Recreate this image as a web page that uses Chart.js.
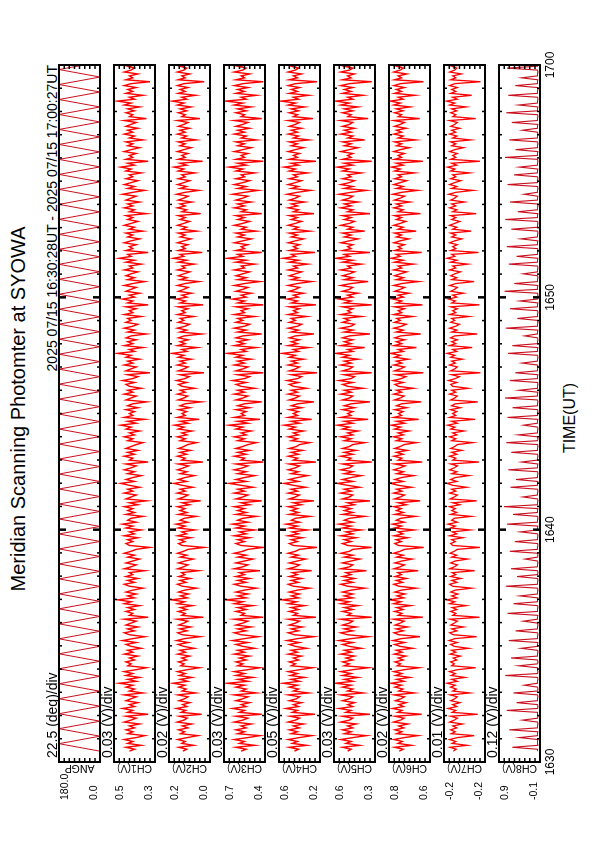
<!DOCTYPE html>
<html>
<head>
<meta charset="utf-8">
<script src="https://cdn.jsdelivr.net/npm/chart.js@4.4.1/dist/chart.umd.min.js"></script>
<style>
  html, body { margin: 0; padding: 0; background: #fff; width: 595px; height: 842px; overflow: hidden; }
  /* the plot is drawn landscape and turned a quarter turn counter-clockwise */
  #sheet {
    position: absolute; left: 0; top: 0; width: 842px; height: 595px;
    transform-origin: 0 0; transform: translate(0, 842px) rotate(-90deg);
    font-family: "Liberation Sans", Arial, Helvetica, sans-serif; color: #000;
  }
  #sheet canvas { position: absolute; left: 0; top: 0; }
  .txt { position: absolute; white-space: nowrap; }
  #title { left: 433px; top: 7px; font-size: 20px; line-height: 22px; transform: translateX(-50%); }
  #span { right: 65px; top: 44px; font-size: 14px; line-height: 16px; }
  #xname { left: 424px; top: 561px; font-size: 16px; line-height: 18px; transform: translateX(-50%); }
</style>
</head>
<body>
<div id="sheet">
  <div class="txt" id="title">Meridian Scanning Photomter at SYOWA</div>
  <div class="txt" id="span">2025 07/15 16:30:28UT - 2025 07/15 17:00:27UT</div>
  <div class="txt" id="xname">TIME(UT)</div>
</div>
<script>
// 数据：16:30:28 到 17:00:27，时间单位为 16:00 之后的分钟
const sampleStart = 30 + 28 / 60;
const sampleEnd = 60 + 27 / 60;
const timeTicks = [30, 40, 50, 60];
const timeTickLabels = ['1630', '1640', '1650', '1700'];

const panelNames = ['ANGP', 'CH1(V)', 'CH2(V)', 'CH3(V)', 'CH4(V)', 'CH5(V)', 'CH6(V)', 'CH7(V)', 'CH8(V)'];
const panelUnits = ['deg', 'V', 'V', 'V', 'V', 'V', 'V', 'V', 'V'];
const panelMin = [0, 0.27, 0.04, 0.44, 0.20, 0.34, 0.64, -0.24, -0.10];
const panelMax = [180, 0.51, 0.20, 0.68, 0.60, 0.58, 0.80, -0.16, 0.86];

// 扫描角度（往返扫描）
const angp = [
  0,180,0,180,0,180,0,180,0,180,0,180,0,180,0,180,0,180,0,180,
  0,180,0,180,0,180,0,180,0,180,0,180,0,180,0,180,0,180,0,180,
  0,180,0,180,0,180,0,180,0,180,0,180,0,180,0,180,0,180,0,180,
  0,180,0,180,0,180,0,180,0,180,0,180,0,180,0,180,0,180,0,180,
  0,180,0,180,0,180,0,180,0,180,0,180,0,180
];

const ch1 = [
  0.42,0.39,0.44,0.35,0.43,0.40,0.45,0.38,0.33,0.43,0.40,0.44,0.39,0.42,0.36,0.45,0.41,0.38,0.44,0.31,
  0.43,0.40,0.46,0.39,0.42,0.37,0.44,0.41,0.38,0.45,0.34,0.42,0.39,0.44,0.40,0.48,0.38,0.43,0.36,0.44,
  0.40,0.45,0.38,0.32,0.43,0.41,0.44,0.39,0.42,0.37,0.45,0.40,0.43,0.35,0.41,0.44,0.38,0.46,0.40,0.33,
  0.42,0.45,0.39,0.43,0.37,0.44,0.41,0.38,0.45,0.31,0.42,0.40,0.44,0.39,0.43,0.36,0.45,0.41,0.49,0.39,
  0.43,0.38,0.44,0.40,0.34,0.42,0.45,0.39,0.43,0.37,0.44,0.40,0.42,0.33,0.45,0.41,0.38,0.44,0.40,0.36,
  0.43,0.39,0.45,0.41,0.38,0.30,0.42,0.44,0.40,0.43,0.37,0.45,0.39,0.42,0.35,0.44,0.40,0.46,0.38,0.43,
  0.41,0.34,0.44,0.39,0.43,0.40,0.45,0.37,0.42,0.32,0.44,0.41,0.38,0.45,0.40,0.43,0.36,0.42,0.47,0.39,
  0.44,0.40,0.35,0.43,0.39,0.45,0.41,0.38,0.44,0.31,0.42,0.40,0.45,0.39,0.43,0.37,0.44,0.41,0.38,0.34,
  0.43,0.40,0.45,0.39,0.42,0.36,0.44,0.41,0.47,0.38,0.43,0.33,0.45,0.40,0.42,0.39,0.44,0.37,0.43,0.40,
  0.32,0.44,0.41,0.38,0.45,0.40,0.43,0.35,0.42,0.44,0.39,0.46,0.40,0.37,0.43,0.30,0.44,0.41,0.38,0.45,
  0.40,0.43,0.36,0.44,0.41,0.49,0.39,0.42,0.34,0.45,0.40,0.43,0.38,0.44,0.41,0.32,0.43,0.39,0.45,0.40,
  0.37,0.44,0.41,0.43,0.35,0.45,0.40,0.42,0.38,0.44,0.31,0.43,0.40,0.46,0.39,0.42,0.36,0.44,0.41,0.38,
  0.45,0.40,0.33,0.43,0.39,0.44,0.41,0.37,0.45,0.40,0.42,0.35,0.44,0.39,0.48,0.41,0.43,0.31,0.44,0.40,
  0.42,0.38,0.45,0.41,0.36,0.43,0.40,0.44,0.34,0.42,0.39,0.45,0.41,0.37,0.43,0.40,0.44,0.32,0.42,0.39,
  0.45,0.40,0.43,0.36,0.44,0.41,0.38,0.46,0.40,0.33,0.43,0.39,0.45,0.41,0.37,0.44,0.40,0.42,0.35,0.44,
  0.41,0.47,0.39,0.43,0.31,0.44,0.40,0.42,0.38,0.45,0.41,0.36,0.43,0.40,0.44,0.34,0.42,0.39,0.45,0.40,
  0.43,0.37,0.44,0.41,0.38,0.45,0.32,0.42,0.40,0.44,0.39,0.43,0.36,0.45,0.41,0.49,0.39,0.42,0.34,0.44,
  0.40,0.43,0.38,0.45,0.41,0.30,0.44,0.40,0.42,0.37,0.45,0.41,0.39,0.43,0.35,0.44,0.40,0.46,0.38,0.42
];

const ch2 = [
  0.146,0.131,0.162,0.104,0.150,0.137,0.166,0.128,0.087,0.155,0.139,0.163,0.126,0.148,0.112,0.168,0.142,0.129,0.160,0.072,
  0.152,0.135,0.171,0.130,0.147,0.118,0.161,0.140,0.126,0.165,0.097,0.149,0.133,0.162,0.138,0.184,0.127,0.156,0.110,0.160,
  0.137,0.167,0.128,0.081,0.154,0.141,0.163,0.132,0.150,0.119,0.166,0.136,0.157,0.101,0.143,0.164,0.125,0.170,0.139,0.078,
  0.149,0.166,0.130,0.158,0.115,0.162,0.142,0.127,0.168,0.066,0.150,0.137,0.164,0.131,0.156,0.108,0.167,0.140,0.190,0.129,
  0.155,0.124,0.163,0.139,0.093,0.148,0.167,0.133,0.157,0.117,0.162,0.138,0.151,0.085,0.166,0.143,0.126,0.163,0.137,0.105,
  0.156,0.131,0.167,0.143,0.125,0.062,0.149,0.163,0.138,0.158,0.114,0.166,0.132,0.150,0.099,0.164,0.137,0.172,0.127,0.157,
  0.141,0.094,0.163,0.130,0.157,0.138,0.167,0.120,0.149,0.076,0.164,0.142,0.126,0.168,0.136,0.156,0.107,0.149,0.181,0.131,
  0.163,0.138,0.101,0.156,0.130,0.167,0.143,0.124,0.164,0.068,0.150,0.137,0.167,0.131,0.157,0.116,0.163,0.142,0.127,0.092,
  0.157,0.136,0.168,0.130,0.150,0.110,0.164,0.141,0.179,0.125,0.156,0.082,0.167,0.137,0.149,0.131,0.163,0.118,0.157,0.138,
  0.075,0.164,0.142,0.127,0.167,0.137,0.156,0.100,0.149,0.163,0.131,0.170,0.138,0.121,0.157,0.064,0.164,0.142,0.126,0.167,
  0.136,0.157,0.113,0.164,0.142,0.188,0.130,0.150,0.090,0.167,0.137,0.157,0.125,0.163,0.141,0.073,0.157,0.131,0.167,0.137,
  0.120,0.164,0.142,0.156,0.104,0.167,0.137,0.150,0.126,0.164,0.067,0.157,0.136,0.171,0.130,0.150,0.112,0.163,0.142,0.125,
  0.167,0.137,0.083,0.157,0.130,0.164,0.142,0.119,0.167,0.137,0.150,0.102,0.164,0.131,0.183,0.142,0.157,0.070,0.164,0.137,
  0.150,0.126,0.167,0.142,0.114,0.157,0.137,0.164,0.091,0.150,0.131,0.167,0.142,0.120,0.157,0.137,0.164,0.076,0.150,0.131,
  0.167,0.137,0.157,0.111,0.164,0.142,0.125,0.170,0.137,0.084,0.157,0.131,0.167,0.142,0.119,0.164,0.137,0.150,0.099,0.164,
  0.142,0.180,0.131,0.157,0.069,0.164,0.137,0.150,0.126,0.167,0.142,0.113,0.157,0.137,0.164,0.094,0.150,0.131,0.167,0.137,
  0.157,0.120,0.164,0.142,0.126,0.167,0.079,0.150,0.137,0.164,0.131,0.157,0.114,0.167,0.142,0.187,0.131,0.150,0.096,0.164,
  0.137,0.157,0.126,0.167,0.142,0.063,0.164,0.137,0.150,0.119,0.167,0.142,0.131,0.157,0.105,0.164,0.137,0.171,0.126,0.150
];

const ch3 = [
  0.58,0.55,0.61,0.50,0.59,0.56,0.62,0.54,0.47,0.60,0.56,0.61,0.55,0.58,0.52,0.62,0.57,0.54,0.61,0.46,
  0.59,0.56,0.63,0.55,0.58,0.53,0.61,0.57,0.54,0.62,0.49,0.58,0.55,0.61,0.56,0.66,0.54,0.60,0.51,0.61,
  0.56,0.62,0.54,0.47,0.60,0.57,0.61,0.55,0.59,0.53,0.62,0.56,0.60,0.50,0.57,0.61,0.54,0.63,0.56,0.48,
  0.58,0.62,0.55,0.60,0.52,0.61,0.57,0.54,0.62,0.45,0.58,0.56,0.61,0.55,0.60,0.51,0.62,0.57,0.67,0.55,
  0.60,0.54,0.61,0.56,0.49,0.58,0.62,0.55,0.60,0.53,0.61,0.56,0.59,0.47,0.62,0.57,0.54,0.61,0.56,0.51,
  0.60,0.55,0.62,0.57,0.54,0.45,0.58,0.61,0.56,0.60,0.53,0.62,0.55,0.59,0.50,0.61,0.56,0.63,0.54,0.60,
  0.57,0.49,0.61,0.55,0.60,0.56,0.62,0.53,0.58,0.46,0.61,0.57,0.54,0.62,0.56,0.60,0.51,0.58,0.65,0.55,
  0.61,0.56,0.50,0.60,0.55,0.62,0.57,0.54,0.61,0.45,0.58,0.56,0.62,0.55,0.60,0.53,0.61,0.57,0.54,0.49,
  0.60,0.56,0.62,0.55,0.58,0.52,0.61,0.57,0.65,0.54,0.60,0.47,0.62,0.56,0.58,0.55,0.61,0.53,0.60,0.56,
  0.46,0.61,0.57,0.54,0.62,0.56,0.60,0.50,0.58,0.61,0.55,0.63,0.56,0.53,0.60,0.45,0.61,0.57,0.54,0.62,
  0.56,0.60,0.52,0.61,0.57,0.66,0.55,0.58,0.49,0.62,0.56,0.60,0.54,0.61,0.57,0.46,0.60,0.55,0.62,0.56,
  0.53,0.61,0.57,0.60,0.50,0.62,0.56,0.58,0.54,0.61,0.45,0.60,0.56,0.63,0.55,0.58,0.52,0.61,0.57,0.54,
  0.62,0.56,0.47,0.60,0.55,0.61,0.57,0.53,0.62,0.56,0.58,0.50,0.61,0.55,0.66,0.57,0.60,0.46,0.61,0.56,
  0.58,0.54,0.62,0.57,0.52,0.60,0.56,0.61,0.49,0.58,0.55,0.62,0.57,0.53,0.60,0.56,0.61,0.46,0.58,0.55,
  0.62,0.56,0.60,0.52,0.61,0.57,0.54,0.63,0.56,0.48,0.60,0.55,0.62,0.57,0.53,0.61,0.56,0.58,0.50,0.61,
  0.57,0.65,0.55,0.60,0.45,0.61,0.56,0.58,0.54,0.62,0.57,0.52,0.60,0.56,0.61,0.49,0.58,0.55,0.62,0.56,
  0.60,0.53,0.61,0.57,0.54,0.62,0.46,0.58,0.56,0.61,0.55,0.60,0.52,0.62,0.57,0.67,0.55,0.58,0.49,0.61,
  0.56,0.60,0.54,0.62,0.57,0.45,0.61,0.56,0.58,0.53,0.62,0.57,0.55,0.60,0.50,0.61,0.56,0.63,0.54,0.58
];

const ch4 = [
  0.45,0.41,0.50,0.33,0.47,0.42,0.51,0.40,0.28,0.48,0.42,0.50,0.40,0.46,0.36,0.51,0.44,0.40,0.49,0.25,
  0.47,0.42,0.53,0.41,0.46,0.38,0.50,0.43,0.40,0.51,0.31,0.46,0.41,0.50,0.42,0.56,0.40,0.48,0.35,0.49,
  0.42,0.51,0.40,0.27,0.48,0.44,0.50,0.41,0.46,0.38,0.51,0.42,0.48,0.33,0.44,0.50,0.40,0.52,0.42,0.26,
  0.45,0.51,0.41,0.48,0.37,0.50,0.44,0.40,0.51,0.24,0.46,0.42,0.50,0.41,0.48,0.35,0.51,0.43,0.57,0.41,
  0.48,0.40,0.50,0.42,0.30,0.46,0.51,0.41,0.48,0.38,0.50,0.42,0.47,0.28,0.51,0.44,0.40,0.50,0.42,0.34,
  0.48,0.41,0.51,0.44,0.40,0.23,0.46,0.50,0.42,0.48,0.37,0.51,0.41,0.47,0.32,0.50,0.42,0.53,0.40,0.48,
  0.44,0.30,0.50,0.41,0.48,0.42,0.51,0.38,0.46,0.26,0.50,0.44,0.40,0.51,0.42,0.48,0.34,0.46,0.55,0.41,
  0.50,0.42,0.32,0.48,0.41,0.51,0.44,0.40,0.50,0.24,0.46,0.42,0.51,0.41,0.48,0.37,0.50,0.43,0.40,0.30,
  0.48,0.42,0.51,0.41,0.46,0.36,0.50,0.44,0.55,0.40,0.48,0.28,0.51,0.42,0.46,0.41,0.50,0.38,0.48,0.42,
  0.26,0.50,0.44,0.40,0.51,0.42,0.48,0.33,0.46,0.50,0.41,0.52,0.42,0.38,0.48,0.23,0.50,0.44,0.40,0.51,
  0.42,0.48,0.36,0.50,0.44,0.57,0.41,0.46,0.31,0.51,0.42,0.48,0.40,0.50,0.44,0.26,0.48,0.41,0.51,0.42,
  0.38,0.50,0.44,0.48,0.33,0.51,0.42,0.46,0.40,0.50,0.24,0.48,0.42,0.52,0.41,0.46,0.36,0.50,0.44,0.40,
  0.51,0.42,0.28,0.48,0.41,0.50,0.44,0.38,0.51,0.42,0.46,0.32,0.50,0.41,0.56,0.44,0.48,0.25,0.50,0.42,
  0.46,0.40,0.51,0.44,0.36,0.48,0.42,0.50,0.30,0.46,0.41,0.51,0.44,0.38,0.48,0.42,0.50,0.26,0.46,0.41,
  0.51,0.42,0.48,0.35,0.50,0.44,0.40,0.52,0.42,0.29,0.48,0.41,0.51,0.44,0.38,0.50,0.42,0.46,0.32,0.50,
  0.44,0.55,0.41,0.48,0.24,0.50,0.42,0.46,0.40,0.51,0.44,0.36,0.48,0.42,0.50,0.31,0.46,0.41,0.51,0.42,
  0.48,0.38,0.50,0.44,0.40,0.51,0.27,0.46,0.42,0.50,0.41,0.48,0.35,0.51,0.44,0.58,0.41,0.46,0.31,0.50,
  0.42,0.48,0.40,0.51,0.44,0.23,0.50,0.42,0.46,0.38,0.51,0.44,0.41,0.48,0.33,0.50,0.42,0.53,0.40,0.46
];

const ch5 = [
  0.50,0.48,0.53,0.43,0.51,0.48,0.54,0.47,0.39,0.52,0.48,0.53,0.47,0.50,0.45,0.54,0.49,0.47,0.53,0.37,
  0.51,0.48,0.55,0.47,0.50,0.46,0.53,0.49,0.47,0.54,0.41,0.50,0.47,0.53,0.48,0.57,0.47,0.52,0.44,0.53,
  0.48,0.54,0.47,0.38,0.52,0.49,0.53,0.47,0.51,0.46,0.54,0.48,0.52,0.42,0.49,0.53,0.47,0.55,0.48,0.38,
  0.50,0.54,0.47,0.52,0.45,0.53,0.49,0.47,0.54,0.36,0.50,0.48,0.53,0.47,0.52,0.44,0.54,0.49,0.57,0.47,
  0.52,0.47,0.53,0.48,0.40,0.50,0.54,0.47,0.52,0.46,0.53,0.48,0.51,0.39,0.54,0.49,0.47,0.53,0.48,0.43,
  0.52,0.47,0.54,0.49,0.47,0.36,0.50,0.53,0.48,0.52,0.45,0.54,0.47,0.51,0.42,0.53,0.48,0.55,0.47,0.52,
  0.49,0.40,0.53,0.47,0.52,0.48,0.54,0.46,0.50,0.37,0.53,0.49,0.47,0.54,0.48,0.52,0.43,0.50,0.56,0.47,
  0.53,0.48,0.42,0.52,0.47,0.54,0.49,0.47,0.53,0.36,0.50,0.48,0.54,0.47,0.52,0.45,0.53,0.49,0.47,0.40,
  0.52,0.48,0.54,0.47,0.50,0.44,0.53,0.49,0.56,0.47,0.52,0.38,0.54,0.48,0.50,0.47,0.53,0.46,0.52,0.48,
  0.37,0.53,0.49,0.47,0.54,0.48,0.52,0.41,0.50,0.53,0.47,0.55,0.48,0.46,0.52,0.36,0.53,0.49,0.47,0.54,
  0.48,0.52,0.44,0.53,0.49,0.57,0.47,0.50,0.40,0.54,0.48,0.52,0.47,0.53,0.49,0.37,0.52,0.47,0.54,0.48,
  0.46,0.53,0.49,0.52,0.42,0.54,0.48,0.50,0.47,0.53,0.36,0.52,0.48,0.55,0.47,0.50,0.44,0.53,0.49,0.47,
  0.54,0.48,0.38,0.52,0.47,0.53,0.49,0.46,0.54,0.48,0.50,0.42,0.53,0.47,0.57,0.49,0.52,0.37,0.53,0.48,
  0.50,0.47,0.54,0.49,0.44,0.52,0.48,0.53,0.40,0.50,0.47,0.54,0.49,0.46,0.52,0.48,0.53,0.37,0.50,0.47,
  0.54,0.48,0.52,0.44,0.53,0.49,0.47,0.55,0.48,0.39,0.52,0.47,0.54,0.49,0.46,0.53,0.48,0.50,0.42,0.53,
  0.49,0.56,0.47,0.52,0.36,0.53,0.48,0.50,0.47,0.54,0.49,0.44,0.52,0.48,0.53,0.40,0.50,0.47,0.54,0.48,
  0.52,0.46,0.53,0.49,0.47,0.54,0.38,0.50,0.48,0.53,0.47,0.52,0.44,0.54,0.49,0.57,0.47,0.50,0.41,0.53,
  0.48,0.52,0.47,0.54,0.49,0.36,0.53,0.48,0.50,0.46,0.54,0.49,0.47,0.52,0.42,0.53,0.48,0.55,0.47,0.50
];

const ch6 = [
  0.760,0.745,0.778,0.712,0.765,0.748,0.781,0.740,0.688,0.770,0.750,0.777,0.742,0.762,0.726,0.782,0.755,0.741,0.776,0.672,
  0.766,0.749,0.786,0.743,0.761,0.733,0.775,0.754,0.740,0.780,0.702,0.762,0.746,0.777,0.751,0.792,0.741,0.770,0.719,0.774,
  0.750,0.781,0.740,0.683,0.768,0.755,0.777,0.745,0.764,0.734,0.780,0.749,0.771,0.708,0.756,0.778,0.739,0.784,0.752,0.679,
  0.762,0.780,0.744,0.772,0.728,0.776,0.756,0.741,0.782,0.668,0.764,0.750,0.778,0.745,0.770,0.715,0.781,0.754,0.795,0.743,
  0.769,0.738,0.777,0.752,0.695,0.762,0.781,0.747,0.771,0.732,0.776,0.751,0.765,0.686,0.780,0.757,0.740,0.777,0.750,0.710,
  0.770,0.745,0.781,0.757,0.739,0.665,0.763,0.777,0.752,0.772,0.727,0.780,0.746,0.764,0.702,0.778,0.751,0.786,0.741,0.771,
  0.755,0.697,0.777,0.744,0.771,0.752,0.781,0.733,0.763,0.678,0.778,0.756,0.740,0.782,0.750,0.770,0.712,0.763,0.793,0.745,
  0.777,0.752,0.704,0.770,0.744,0.781,0.757,0.738,0.778,0.670,0.764,0.750,0.781,0.745,0.771,0.729,0.777,0.756,0.741,0.693,
  0.771,0.750,0.782,0.744,0.764,0.722,0.778,0.755,0.791,0.739,0.770,0.684,0.781,0.751,0.763,0.745,0.777,0.731,0.771,0.752,
  0.674,0.778,0.756,0.741,0.781,0.751,0.770,0.705,0.763,0.777,0.745,0.784,0.752,0.734,0.771,0.667,0.778,0.756,0.740,0.781,
  0.750,0.771,0.725,0.778,0.756,0.794,0.744,0.764,0.693,0.781,0.751,0.771,0.739,0.777,0.755,0.676,0.771,0.745,0.781,0.751,
  0.733,0.778,0.756,0.770,0.708,0.781,0.751,0.764,0.740,0.778,0.669,0.771,0.750,0.785,0.744,0.764,0.722,0.777,0.756,0.739,
  0.781,0.751,0.685,0.771,0.744,0.778,0.756,0.731,0.781,0.751,0.764,0.705,0.778,0.745,0.792,0.756,0.771,0.672,0.778,0.751,
  0.764,0.740,0.781,0.756,0.723,0.771,0.751,0.778,0.694,0.764,0.745,0.781,0.756,0.734,0.771,0.751,0.778,0.677,0.764,0.745,
  0.781,0.751,0.771,0.719,0.778,0.756,0.739,0.785,0.751,0.688,0.771,0.745,0.781,0.756,0.731,0.778,0.751,0.764,0.701,0.778,
  0.756,0.790,0.745,0.771,0.668,0.778,0.751,0.764,0.740,0.781,0.756,0.721,0.771,0.751,0.778,0.696,0.764,0.745,0.781,0.751,
  0.771,0.733,0.778,0.756,0.740,0.781,0.680,0.764,0.751,0.778,0.745,0.771,0.718,0.781,0.756,0.795,0.745,0.764,0.699,0.778,
  0.751,0.771,0.740,0.781,0.756,0.666,0.778,0.751,0.764,0.731,0.781,0.756,0.745,0.771,0.709,0.778,0.751,0.786,0.740,0.764
];

const ch7 = [
  -0.178,-0.184,-0.172,-0.205,-0.176,-0.183,-0.171,-0.186,-0.219,-0.174,-0.182,-0.173,-0.185,-0.177,-0.196,-0.171,-0.180,-0.186,-0.173,-0.226,
  -0.176,-0.183,-0.168,-0.185,-0.177,-0.191,-0.173,-0.181,-0.186,-0.172,-0.210,-0.177,-0.184,-0.173,-0.182,-0.166,-0.186,-0.175,-0.201,-0.174,
  -0.182,-0.171,-0.186,-0.222,-0.175,-0.180,-0.173,-0.185,-0.178,-0.192,-0.172,-0.183,-0.175,-0.208,-0.180,-0.173,-0.186,-0.170,-0.181,-0.224,
  -0.178,-0.171,-0.185,-0.175,-0.198,-0.173,-0.180,-0.186,-0.172,-0.229,-0.177,-0.183,-0.173,-0.185,-0.176,-0.203,-0.171,-0.181,-0.165,-0.185,
  -0.175,-0.187,-0.173,-0.182,-0.214,-0.177,-0.171,-0.185,-0.175,-0.193,-0.173,-0.183,-0.176,-0.220,-0.171,-0.180,-0.186,-0.173,-0.182,-0.206,
  -0.175,-0.185,-0.172,-0.180,-0.186,-0.230,-0.177,-0.173,-0.182,-0.175,-0.197,-0.171,-0.185,-0.176,-0.211,-0.173,-0.182,-0.168,-0.186,-0.175,
  -0.180,-0.213,-0.173,-0.185,-0.175,-0.182,-0.171,-0.191,-0.177,-0.224,-0.172,-0.180,-0.186,-0.171,-0.183,-0.175,-0.204,-0.177,-0.166,-0.185,
  -0.173,-0.182,-0.209,-0.175,-0.185,-0.171,-0.180,-0.186,-0.173,-0.228,-0.177,-0.183,-0.171,-0.185,-0.175,-0.195,-0.173,-0.181,-0.186,-0.216,
  -0.175,-0.183,-0.171,-0.185,-0.177,-0.199,-0.173,-0.181,-0.167,-0.186,-0.175,-0.221,-0.171,-0.183,-0.177,-0.185,-0.173,-0.192,-0.175,-0.182,
  -0.226,-0.173,-0.181,-0.186,-0.171,-0.183,-0.175,-0.207,-0.177,-0.173,-0.185,-0.169,-0.182,-0.190,-0.175,-0.231,-0.173,-0.181,-0.186,-0.171,
  -0.182,-0.175,-0.196,-0.173,-0.181,-0.166,-0.185,-0.177,-0.215,-0.171,-0.183,-0.175,-0.186,-0.173,-0.181,-0.225,-0.175,-0.185,-0.171,-0.183,
  -0.190,-0.173,-0.181,-0.175,-0.209,-0.171,-0.183,-0.177,-0.186,-0.173,-0.229,-0.175,-0.182,-0.169,-0.185,-0.177,-0.198,-0.173,-0.181,-0.186,
  -0.171,-0.183,-0.219,-0.175,-0.185,-0.173,-0.181,-0.192,-0.171,-0.183,-0.177,-0.206,-0.173,-0.185,-0.166,-0.181,-0.175,-0.227,-0.173,-0.183,
  -0.177,-0.186,-0.171,-0.181,-0.195,-0.175,-0.183,-0.173,-0.213,-0.177,-0.185,-0.171,-0.181,-0.191,-0.175,-0.183,-0.173,-0.223,-0.177,-0.185,
  -0.171,-0.183,-0.175,-0.200,-0.173,-0.181,-0.186,-0.169,-0.183,-0.217,-0.175,-0.185,-0.171,-0.181,-0.193,-0.173,-0.183,-0.177,-0.210,-0.173,
  -0.181,-0.167,-0.185,-0.175,-0.230,-0.173,-0.183,-0.177,-0.186,-0.171,-0.181,-0.198,-0.175,-0.183,-0.173,-0.212,-0.177,-0.185,-0.171,-0.183,
  -0.175,-0.191,-0.173,-0.181,-0.186,-0.171,-0.222,-0.177,-0.183,-0.173,-0.185,-0.175,-0.203,-0.171,-0.181,-0.165,-0.186,-0.177,-0.214,-0.173,
  -0.183,-0.175,-0.186,-0.171,-0.181,-0.231,-0.173,-0.183,-0.177,-0.194,-0.171,-0.181,-0.185,-0.175,-0.207,-0.173,-0.183,-0.168,-0.186,-0.177
];

const ch8 = [
  -0.04,-0.04,0.55,-0.05,-0.04,-0.04,-0.05,0.38,-0.04,-0.04,-0.05,0.62,-0.04,-0.04,-0.05,-0.04,0.31,-0.04,-0.05,-0.04,
  -0.04,0.68,-0.04,-0.05,-0.04,0.45,-0.04,-0.04,-0.05,-0.04,0.52,-0.04,-0.05,-0.04,0.27,-0.04,-0.04,-0.05,-0.04,0.71,
  -0.04,-0.05,-0.04,-0.04,0.40,-0.04,-0.05,-0.04,0.58,-0.04,-0.04,-0.05,-0.04,0.34,-0.04,-0.04,-0.05,0.63,-0.04,-0.04,
  -0.05,-0.04,0.47,-0.04,-0.04,-0.05,-0.04,0.29,-0.04,-0.04,-0.05,0.66,-0.04,-0.04,-0.05,-0.04,0.52,-0.04,-0.04,-0.05,
  0.37,-0.04,-0.04,-0.05,-0.04,0.70,-0.04,-0.04,-0.05,-0.04,0.44,-0.04,-0.05,-0.04,0.58,-0.04,-0.04,-0.05,-0.04,0.25,
  -0.04,-0.05,-0.04,0.61,-0.04,-0.04,-0.05,-0.04,0.49,-0.04,-0.04,-0.05,-0.04,0.36,-0.04,-0.04,-0.05,0.67,-0.04,-0.04,
  -0.05,-0.04,0.53,-0.04,-0.04,-0.05,0.74,-0.04,-0.04,-0.05,-0.04,0.30,-0.04,-0.04,-0.05,-0.04,0.59,-0.04,-0.04,-0.05,
  0.46,-0.04,-0.04,-0.05,-0.04,0.64,-0.04,-0.04,-0.05,0.33,-0.04,-0.04,-0.05,-0.04,0.57,-0.04,-0.04,-0.05,-0.04,0.69,
  -0.04,-0.05,-0.04,0.41,-0.04,-0.04,-0.05,-0.04,0.28,-0.04,-0.04,-0.05,0.66,-0.04,-0.04,-0.05,-0.04,0.54,-0.04,-0.04,
  -0.05,-0.04,0.72,-0.04,-0.04,-0.05,0.39,-0.04,-0.04,-0.05,-0.04,0.61,-0.04,-0.04,-0.05,0.48,-0.04,-0.04,-0.05,-0.04,
  0.32,-0.04,-0.04,-0.05,-0.04,0.65,-0.04,-0.04,-0.05,0.55,-0.04,-0.04,-0.05,-0.04,0.26,-0.04,-0.04,-0.05,0.70,-0.04,
  -0.04,-0.05,-0.04,0.43,-0.04,-0.04,-0.05,-0.04,0.60,-0.04,-0.04,-0.05,0.37,-0.04,-0.04,-0.05,-0.04,0.73,-0.04,-0.04,
  -0.05,0.50,-0.04,-0.04,-0.05,-0.04,0.29,-0.04,-0.04,-0.05,-0.04,0.63,-0.04,-0.04,-0.05,0.45,-0.04,-0.04,-0.05,-0.04,
  0.68,-0.04,-0.04,-0.05,0.35,-0.04,-0.04,-0.05,-0.04,0.57,-0.04,-0.04,-0.05,-0.04,0.71,-0.04,-0.04,-0.05,0.42,-0.04,
  -0.04,-0.05,-0.04,0.60,-0.04,-0.04,-0.05,0.27,-0.04,-0.04,-0.05,-0.04,0.66,-0.04,-0.04,-0.05,-0.04,0.51,-0.04,-0.04,
  -0.05,0.38,-0.04,-0.04,-0.05,-0.04,0.72,-0.04,-0.04,-0.05,0.47,-0.04,-0.04,-0.05,-0.04,0.62,-0.04,-0.04,-0.05,-0.04,
  0.31,-0.04,-0.04,-0.05,0.56,-0.04,-0.04,-0.05,-0.04,0.69,-0.04,-0.04,-0.05,0.40,-0.04,-0.04,-0.05,-0.04,0.64,-0.04,
  -0.04,-0.05,-0.04,0.48,-0.04,-0.04,-0.05,0.33,-0.04,-0.04,-0.05,-0.04,0.67,-0.04,-0.04,-0.05,0.54,-0.04,-0.04,-0.05
];

const panelSeries = [angp, ch1, ch2, ch3, ch4, ch5, ch6, ch7, ch8];
const panelColors = ['#c8101e', '#ff0000', '#ff0000', '#ff0000', '#ff0000', '#ff0000', '#ff0000', '#ff0000', '#c8101e'];
const panelLineWidths = [1, 1.4, 1.4, 1.4, 1.4, 1.4, 1.4, 1.3, 1.1];

// 画面布局（横向坐标）
const SHEET_W = 842, SHEET_H = 595;
const PLOT_LEFT = 80, PLOT_RIGHT = 777;
const PANEL_TOP0 = 59, PANEL_PITCH = 55, PANEL_H = 41;
const FONT = '"Liberation Sans", Arial, Helvetica, sans-serif';

// 边框、向内刻度和标注
const panelFrame = {
  id: 'panelFrame',
  afterDraw(chart, args, opts) {
    const { ctx, chartArea: a } = chart;
    const xs = chart.scales.x, ys = chart.scales.y;
    ctx.save();
    ctx.strokeStyle = '#000';

    // 每分钟一个刻度，十分钟加长
    ctx.lineWidth = 1.5;
    ctx.beginPath();
    for (let m = xs.min + 1; m < xs.max; m++) {
      if (m % 10 === 0) continue;
      const px = xs.getPixelForValue(m);
      ctx.moveTo(px, a.top); ctx.lineTo(px, a.top + 3);
      ctx.moveTo(px, a.bottom); ctx.lineTo(px, a.bottom - 3);
    }
    for (let k = 1; k < 8; k++) {
      const py = ys.getPixelForValue(ys.min + k * (ys.max - ys.min) / 8);
      ctx.moveTo(a.left, py); ctx.lineTo(a.left + 4, py);
      ctx.moveTo(a.right, py); ctx.lineTo(a.right - 4, py);
    }
    ctx.stroke();
    ctx.lineWidth = 2.5;
    ctx.beginPath();
    timeTicks.forEach(m => {
      if (m <= xs.min || m >= xs.max) return;
      const px = xs.getPixelForValue(m);
      ctx.moveTo(px, a.top); ctx.lineTo(px, a.top + 7);
      ctx.moveTo(px, a.bottom); ctx.lineTo(px, a.bottom - 7);
    });
    ctx.stroke();

    ctx.lineWidth = 2;
    ctx.strokeRect(a.left, a.top, a.right - a.left, a.bottom - a.top);

    // 纵轴上下限与名称
    ctx.fillStyle = '#000';
    ctx.font = '10.5px ' + FONT;
    ctx.textAlign = 'left';
    ctx.textBaseline = 'middle';
    ctx.fillText(ys.max.toFixed(1), 42, a.top + 6);
    ctx.fillText(ys.min.toFixed(1), 42, a.bottom - 6);
    ctx.save();
    ctx.translate(74, (a.top + a.bottom) / 2);
    ctx.rotate(-Math.PI / 2);
    ctx.textAlign = 'center';
    ctx.fillText(opts.name, 0, 0);
    ctx.restore();

    // 每格数值
    const perDiv = (ys.max - ys.min) / 8;
    const divText = opts.unit === 'deg'
      ? perDiv.toFixed(1) + ' (deg)/div'
      : perDiv.toFixed(2) + ' (V)/div';
    ctx.font = '14px ' + FONT;
    ctx.textBaseline = 'alphabetic';
    ctx.fillText(divText, a.left + 4, a.top - 2);

    // 最下面一格画时间标注
    if (opts.timeLabels) {
      ctx.font = '12px ' + FONT;
      ctx.textAlign = 'center';
      ctx.textBaseline = 'middle';
      timeTicks.forEach((m, i) => {
        ctx.fillText(timeTickLabels[i], xs.getPixelForValue(m), a.bottom + 11);
      });
    }
    ctx.restore();
  }
};

const sheet = document.getElementById('sheet');

panelSeries.forEach((values, i) => {
  const canvas = document.createElement('canvas');
  canvas.width = SHEET_W;
  canvas.height = SHEET_H;
  canvas.style.width = SHEET_W + 'px';
  canvas.style.height = SHEET_H + 'px';
  sheet.appendChild(canvas);

  const step = (sampleEnd - sampleStart) / (values.length - 1);
  const points = values.map((v, k) => ({ x: sampleStart + k * step, y: v }));
  const top = PANEL_TOP0 + i * PANEL_PITCH;

  new Chart(canvas.getContext('2d'), {
    type: 'line',
    data: {
      datasets: [{
        data: points,
        borderColor: panelColors[i],
        borderWidth: panelLineWidths[i],
        pointRadius: 0,
        tension: 0,
        fill: false
      }]
    },
    options: {
      responsive: false,
      animation: false,
      events: [],
      layout: {
        padding: {
          left: PLOT_LEFT,
          right: SHEET_W - PLOT_RIGHT,
          top: top,
          bottom: SHEET_H - top - PANEL_H
        }
      },
      scales: {
        x: { type: 'linear', min: 30, max: 60, display: false },
        y: { type: 'linear', min: panelMin[i], max: panelMax[i], display: false }
      },
      plugins: {
        legend: { display: false },
        tooltip: { enabled: false },
        panelFrame: {
          name: panelNames[i],
          unit: panelUnits[i],
          timeLabels: i === panelSeries.length - 1
        }
      }
    },
    plugins: [panelFrame]
  });
});
</script>
</body>
</html>
